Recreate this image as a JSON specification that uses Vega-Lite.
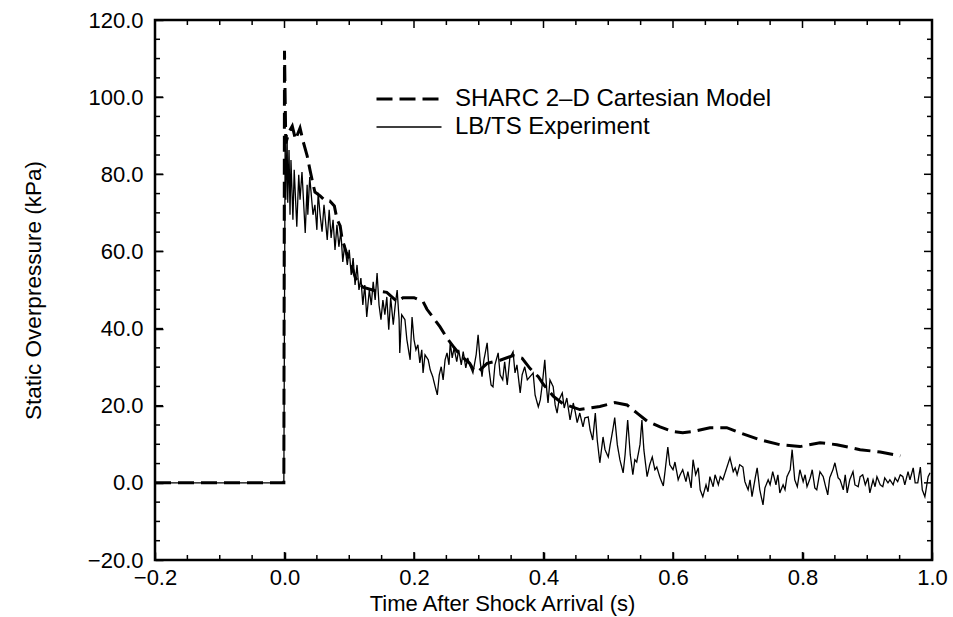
{
  "$schema": "https://vega.github.io/schema/vega-lite/v6.json",
  "width": 777,
  "height": 540,
  "autosize": {"type": "none"},
  "padding": {"left": 155, "top": 20, "right": 21, "bottom": 57},
  "background": "white",
  "config": {
    "view": {"stroke": "black", "strokeWidth": 2.5},
    "axis": {"grid": false, "domain": false, "ticks": true, "tickOpacity": 1, "zindex": 1, "tickColor": "black", "tickWidth": 1.5, "labelColor": "black", "titleColor": "black", "labelFont": "Liberation Sans", "labelFontSize": 22, "titleFont": "Liberation Sans", "titleFontSize": 22, "titleFontWeight": "normal", "labelFlush": false, "labelOverlap": false}
  },
  "datasets": {
    "xt": [
      {"v": -0.2, "k": "major"}, {"v": 0, "k": "major"}, {"v": 0.2, "k": "major"}, {"v": 0.4, "k": "major"}, {"v": 0.6, "k": "major"}, {"v": 0.8, "k": "major"}, {"v": 1.0, "k": "major"},
      {"v": -0.15, "k": "minor"}, {"v": -0.1, "k": "minor"}, {"v": -0.05, "k": "minor"}, {"v": 0.05, "k": "minor"}, {"v": 0.1, "k": "minor"}, {"v": 0.15, "k": "minor"}, {"v": 0.25, "k": "minor"}, {"v": 0.3, "k": "minor"}, {"v": 0.35, "k": "minor"}, {"v": 0.45, "k": "minor"}, {"v": 0.5, "k": "minor"}, {"v": 0.55, "k": "minor"}, {"v": 0.65, "k": "minor"}, {"v": 0.7, "k": "minor"}, {"v": 0.75, "k": "minor"}, {"v": 0.85, "k": "minor"}, {"v": 0.9, "k": "minor"}, {"v": 0.95, "k": "minor"}
    ],
    "yt": [
      {"v": -20, "k": "major"}, {"v": 0, "k": "major"}, {"v": 20, "k": "major"}, {"v": 40, "k": "major"}, {"v": 60, "k": "major"}, {"v": 80, "k": "major"}, {"v": 100, "k": "major"}, {"v": 120, "k": "major"},
      {"v": -15, "k": "minor"}, {"v": -10, "k": "minor"}, {"v": -5, "k": "minor"}, {"v": 5, "k": "minor"}, {"v": 10, "k": "minor"}, {"v": 15, "k": "minor"}, {"v": 25, "k": "minor"}, {"v": 30, "k": "minor"}, {"v": 35, "k": "minor"}, {"v": 45, "k": "minor"}, {"v": 50, "k": "minor"}, {"v": 55, "k": "minor"}, {"v": 65, "k": "minor"}, {"v": 70, "k": "minor"}, {"v": 75, "k": "minor"}, {"v": 85, "k": "minor"}, {"v": 90, "k": "minor"}, {"v": 95, "k": "minor"}, {"v": 105, "k": "minor"}, {"v": 110, "k": "minor"}, {"v": 115, "k": "minor"}
    ],
    "model": [
      {"t": -0.2, "p": 0}, {"t": -0.001, "p": 0}, {"t": 0, "p": 112}, {"t": 0.002, "p": 88}, {"t": 0.007, "p": 91}, {"t": 0.012, "p": 92.5}, {"t": 0.017, "p": 89}, {"t": 0.024, "p": 92}, {"t": 0.029, "p": 88.4}, {"t": 0.035, "p": 84.8}, {"t": 0.039, "p": 81.4}, {"t": 0.044, "p": 77.5}, {"t": 0.047, "p": 75.4}, {"t": 0.055, "p": 74.4}, {"t": 0.063, "p": 73.1}, {"t": 0.07, "p": 73.1}, {"t": 0.077, "p": 71.8}, {"t": 0.081, "p": 68.4}, {"t": 0.086, "p": 66.6}, {"t": 0.089, "p": 63.2}, {"t": 0.095, "p": 60}, {"t": 0.103, "p": 56.5}, {"t": 0.11, "p": 53}, {"t": 0.121, "p": 50.7}, {"t": 0.14, "p": 49.8}, {"t": 0.158, "p": 49.4}, {"t": 0.174, "p": 47}, {"t": 0.183, "p": 48}, {"t": 0.2, "p": 48}, {"t": 0.214, "p": 47}, {"t": 0.22, "p": 45}, {"t": 0.229, "p": 43}, {"t": 0.24, "p": 40.5}, {"t": 0.251, "p": 37.5}, {"t": 0.26, "p": 35.5}, {"t": 0.272, "p": 33}, {"t": 0.286, "p": 31}, {"t": 0.293, "p": 29}, {"t": 0.3, "p": 29}, {"t": 0.313, "p": 31}, {"t": 0.333, "p": 31.8}, {"t": 0.353, "p": 33}, {"t": 0.367, "p": 32.3}, {"t": 0.379, "p": 29.7}, {"t": 0.392, "p": 27.5}, {"t": 0.4, "p": 25.5}, {"t": 0.415, "p": 22.5}, {"t": 0.43, "p": 20.5}, {"t": 0.456, "p": 19}, {"t": 0.487, "p": 19.8}, {"t": 0.51, "p": 20.8}, {"t": 0.529, "p": 20.2}, {"t": 0.545, "p": 18}, {"t": 0.56, "p": 16}, {"t": 0.58, "p": 14.5}, {"t": 0.6, "p": 13.3}, {"t": 0.615, "p": 13}, {"t": 0.631, "p": 13.3}, {"t": 0.657, "p": 14.3}, {"t": 0.683, "p": 14.3}, {"t": 0.703, "p": 13}, {"t": 0.734, "p": 11.2}, {"t": 0.765, "p": 9.9}, {"t": 0.796, "p": 9.4}, {"t": 0.827, "p": 10.4}, {"t": 0.853, "p": 9.9}, {"t": 0.889, "p": 8.6}, {"t": 0.92, "p": 8}, {"t": 0.951, "p": 7}
    ],
    "exp": [
      {"t": -0.2, "p": 0}, {"t": -0.001, "p": 0}, {"t": 0.001, "p": 88.9}, {"t": 0.002, "p": 73.4}, {"t": 0.004, "p": 90.2}, {"t": 0.005, "p": 72.6}, {"t": 0.007, "p": 86.3}, {"t": 0.0085, "p": 69.5}, {"t": 0.01, "p": 83.7}, {"t": 0.013, "p": 68.2}, {"t": 0.015, "p": 81.2}, {"t": 0.019, "p": 66.4}, {"t": 0.022, "p": 79.9}, {"t": 0.024, "p": 73.4}, {"t": 0.027, "p": 80.6}, {"t": 0.032, "p": 64.8}, {"t": 0.035, "p": 77.3}, {"t": 0.036, "p": 69.5}, {"t": 0.039, "p": 79.3}, {"t": 0.044, "p": 69.5}, {"t": 0.047, "p": 72.1}, {"t": 0.05, "p": 65.6}, {"t": 0.052, "p": 75.2}, {"t": 0.055, "p": 69.5}, {"t": 0.058, "p": 65.1}, {"t": 0.061, "p": 72.1}, {"t": 0.066, "p": 63}, {"t": 0.069, "p": 70.8}, {"t": 0.072, "p": 63.5}, {"t": 0.075, "p": 68.2}, {"t": 0.078, "p": 60.4}, {"t": 0.081, "p": 66.9}, {"t": 0.084, "p": 61.2}, {"t": 0.087, "p": 65.1}, {"t": 0.09, "p": 57.3}, {"t": 0.093, "p": 61.7}, {"t": 0.097, "p": 56.5}, {"t": 0.1, "p": 60.4}, {"t": 0.103, "p": 53.9}, {"t": 0.106, "p": 58.3}, {"t": 0.109, "p": 51.3}, {"t": 0.112, "p": 56.5}, {"t": 0.115, "p": 50}, {"t": 0.118, "p": 53.1}, {"t": 0.121, "p": 46.1}, {"t": 0.124, "p": 51.3}, {"t": 0.127, "p": 43}, {"t": 0.131, "p": 50}, {"t": 0.134, "p": 46.1}, {"t": 0.137, "p": 52.1}, {"t": 0.14, "p": 47.4}, {"t": 0.143, "p": 54.4}, {"t": 0.146, "p": 46.1}, {"t": 0.149, "p": 42.3}, {"t": 0.152, "p": 47.4}, {"t": 0.155, "p": 43.6}, {"t": 0.158, "p": 48.2}, {"t": 0.161, "p": 39.7}, {"t": 0.164, "p": 48}, {"t": 0.168, "p": 41}, {"t": 0.171, "p": 46.1}, {"t": 0.174, "p": 50}, {"t": 0.177, "p": 42.3}, {"t": 0.178, "p": 33.7}, {"t": 0.181, "p": 43.6}, {"t": 0.186, "p": 42.3}, {"t": 0.189, "p": 37.1}, {"t": 0.194, "p": 31.9}, {"t": 0.197, "p": 43}, {"t": 0.2, "p": 37.1}, {"t": 0.203, "p": 34.5}, {"t": 0.206, "p": 35.8}, {"t": 0.209, "p": 31.1}, {"t": 0.212, "p": 34.5}, {"t": 0.214, "p": 28.5}, {"t": 0.217, "p": 33.2}, {"t": 0.222, "p": 31.9}, {"t": 0.225, "p": 29.3}, {"t": 0.229, "p": 27.5}, {"t": 0.232, "p": 25.4}, {"t": 0.236, "p": 22.8}, {"t": 0.239, "p": 28}, {"t": 0.242, "p": 30.1}, {"t": 0.245, "p": 26.7}, {"t": 0.248, "p": 31.9}, {"t": 0.251, "p": 33.7}, {"t": 0.254, "p": 30.6}, {"t": 0.256, "p": 36.3}, {"t": 0.259, "p": 32.4}, {"t": 0.262, "p": 35}, {"t": 0.266, "p": 31.4}, {"t": 0.269, "p": 34.5}, {"t": 0.273, "p": 30.6}, {"t": 0.276, "p": 34}, {"t": 0.28, "p": 29.8}, {"t": 0.283, "p": 32.4}, {"t": 0.286, "p": 30.6}, {"t": 0.291, "p": 28.5}, {"t": 0.296, "p": 33.2}, {"t": 0.299, "p": 38.4}, {"t": 0.302, "p": 31.9}, {"t": 0.305, "p": 27.5}, {"t": 0.308, "p": 31.9}, {"t": 0.313, "p": 36.3}, {"t": 0.316, "p": 29.3}, {"t": 0.319, "p": 25.4}, {"t": 0.322, "p": 24.9}, {"t": 0.325, "p": 30.6}, {"t": 0.33, "p": 33.7}, {"t": 0.333, "p": 28}, {"t": 0.337, "p": 26.7}, {"t": 0.34, "p": 31.4}, {"t": 0.344, "p": 25.4}, {"t": 0.348, "p": 32.4}, {"t": 0.353, "p": 34}, {"t": 0.356, "p": 28.5}, {"t": 0.359, "p": 30.6}, {"t": 0.364, "p": 23.3}, {"t": 0.367, "p": 28}, {"t": 0.371, "p": 30.1}, {"t": 0.375, "p": 26.7}, {"t": 0.379, "p": 27.5}, {"t": 0.384, "p": 28.5}, {"t": 0.387, "p": 22.8}, {"t": 0.392, "p": 19.7}, {"t": 0.395, "p": 21.5}, {"t": 0.398, "p": 25.4}, {"t": 0.402, "p": 31.9}, {"t": 0.405, "p": 24.1}, {"t": 0.407, "p": 20.7}, {"t": 0.41, "p": 26.7}, {"t": 0.415, "p": 24.9}, {"t": 0.418, "p": 20.2}, {"t": 0.421, "p": 18.1}, {"t": 0.424, "p": 21.5}, {"t": 0.429, "p": 23.3}, {"t": 0.432, "p": 19.4}, {"t": 0.436, "p": 22}, {"t": 0.441, "p": 16.3}, {"t": 0.446, "p": 20.7}, {"t": 0.449, "p": 18.4}, {"t": 0.452, "p": 15.6}, {"t": 0.456, "p": 18.1}, {"t": 0.461, "p": 14.5}, {"t": 0.464, "p": 16.9}, {"t": 0.469, "p": 17.1}, {"t": 0.472, "p": 13.7}, {"t": 0.476, "p": 11.1}, {"t": 0.48, "p": 18.1}, {"t": 0.483, "p": 11.1}, {"t": 0.487, "p": 5.2}, {"t": 0.492, "p": 11.9}, {"t": 0.495, "p": 8.6}, {"t": 0.5, "p": 6.7}, {"t": 0.503, "p": 9.9}, {"t": 0.507, "p": 13.7}, {"t": 0.51, "p": 16.9}, {"t": 0.514, "p": 9.9}, {"t": 0.518, "p": 6}, {"t": 0.523, "p": 2.6}, {"t": 0.526, "p": 7.3}, {"t": 0.53, "p": 16.3}, {"t": 0.534, "p": 7.3}, {"t": 0.538, "p": 2.1}, {"t": 0.541, "p": 6}, {"t": 0.544, "p": 5.4}, {"t": 0.549, "p": 9.9}, {"t": 0.552, "p": 16.3}, {"t": 0.555, "p": 8.6}, {"t": 0.56, "p": 1.6}, {"t": 0.564, "p": 4.7}, {"t": 0.568, "p": 6.7}, {"t": 0.572, "p": 3.4}, {"t": 0.575, "p": 4.1}, {"t": 0.58, "p": 1.3}, {"t": 0.585, "p": -0.8}, {"t": 0.588, "p": 3.4}, {"t": 0.592, "p": 9.3}, {"t": 0.595, "p": 4.7}, {"t": 0.6, "p": 3.4}, {"t": 0.603, "p": 5.4}, {"t": 0.608, "p": 0.8}, {"t": 0.611, "p": 2.1}, {"t": 0.615, "p": 3.4}, {"t": 0.62, "p": 0.3}, {"t": 0.623, "p": 2.9}, {"t": 0.628, "p": -1.3}, {"t": 0.631, "p": 6}, {"t": 0.635, "p": 2.1}, {"t": 0.639, "p": 3.9}, {"t": 0.642, "p": -1.8}, {"t": 0.646, "p": -3.6}, {"t": 0.651, "p": -0.5}, {"t": 0.654, "p": -2.3}, {"t": 0.657, "p": 1.6}, {"t": 0.662, "p": -1}, {"t": 0.665, "p": 2.1}, {"t": 0.67, "p": -0.5}, {"t": 0.673, "p": 1.6}, {"t": 0.677, "p": 0.8}, {"t": 0.682, "p": 3.4}, {"t": 0.688, "p": 6.5}, {"t": 0.693, "p": 2.9}, {"t": 0.696, "p": 3.9}, {"t": 0.699, "p": 2.1}, {"t": 0.703, "p": 4.7}, {"t": 0.708, "p": 4.1}, {"t": 0.711, "p": 0.3}, {"t": 0.716, "p": -1.8}, {"t": 0.719, "p": 0.8}, {"t": 0.722, "p": -3.6}, {"t": 0.727, "p": 1.3}, {"t": 0.73, "p": 3.9}, {"t": 0.734, "p": -1.8}, {"t": 0.739, "p": -5.7}, {"t": 0.742, "p": -1.3}, {"t": 0.747, "p": 0.8}, {"t": 0.75, "p": -0.5}, {"t": 0.754, "p": 2.9}, {"t": 0.759, "p": -0.5}, {"t": 0.762, "p": 2.1}, {"t": 0.765, "p": -2.6}, {"t": 0.77, "p": -0.5}, {"t": 0.773, "p": -1.8}, {"t": 0.776, "p": 1.6}, {"t": 0.781, "p": 3.4}, {"t": 0.784, "p": 8.6}, {"t": 0.788, "p": 0.8}, {"t": 0.792, "p": -1}, {"t": 0.796, "p": 3.4}, {"t": 0.801, "p": 0.3}, {"t": 0.804, "p": 2.1}, {"t": 0.807, "p": -1}, {"t": 0.812, "p": 1.3}, {"t": 0.815, "p": 3.4}, {"t": 0.819, "p": -1.3}, {"t": 0.822, "p": -1.8}, {"t": 0.827, "p": 2.9}, {"t": 0.832, "p": 1.6}, {"t": 0.835, "p": -0.5}, {"t": 0.839, "p": -3.1}, {"t": 0.842, "p": 1.3}, {"t": 0.847, "p": 3.4}, {"t": 0.85, "p": 5.2}, {"t": 0.855, "p": 1.3}, {"t": 0.858, "p": 0.8}, {"t": 0.863, "p": -1.8}, {"t": 0.866, "p": 2.1}, {"t": 0.869, "p": -2.6}, {"t": 0.873, "p": 0.8}, {"t": 0.878, "p": 2.9}, {"t": 0.881, "p": -0.5}, {"t": 0.886, "p": -1}, {"t": 0.889, "p": 1.6}, {"t": 0.893, "p": 2.1}, {"t": 0.897, "p": -0.5}, {"t": 0.901, "p": 1.3}, {"t": 0.904, "p": -2.6}, {"t": 0.909, "p": 0.8}, {"t": 0.912, "p": -1}, {"t": 0.915, "p": 1.6}, {"t": 0.92, "p": -0.5}, {"t": 0.924, "p": -1}, {"t": 0.927, "p": 1.3}, {"t": 0.932, "p": 0}, {"t": 0.935, "p": 0.8}, {"t": 0.94, "p": -0.5}, {"t": 0.943, "p": 1.3}, {"t": 0.947, "p": 0.3}, {"t": 0.951, "p": 2.1}, {"t": 0.955, "p": 1.6}, {"t": 0.958, "p": -0.5}, {"t": 0.963, "p": 2.9}, {"t": 0.966, "p": 0.8}, {"t": 0.971, "p": 3.9}, {"t": 0.974, "p": 0}, {"t": 0.978, "p": 0}, {"t": 0.982, "p": 4.1}, {"t": 0.985, "p": -1.8}, {"t": 0.989, "p": -3.6}, {"t": 0.992, "p": -0.5}, {"t": 0.994, "p": 1.6}, {"t": 0.997, "p": 2.6}
    ]
  },
  "layer": [
    {
      "data": {"name": "exp"},
      "transform": [{"calculate": "'LB/TS Experiment'", "as": "series"}],
      "mark": {"type": "line", "color": "black", "strokeCap": "butt"},
      "encoding": {
        "x": {"field": "t", "type": "quantitative", "scale": {"domain": [-0.2, 1.0], "nice": false, "zero": false},
              "axis": {"orient": "bottom", "values": [-0.2, 0, 0.2, 0.4, 0.6, 0.8, 1.0], "format": ".1f", "ticks": true, "tickColor": "black", "tickWidth": 1.5, "tickOpacity": 1, "offset": -8, "tickSize": 8, "labelPadding": 7, "title": "Time After Shock Arrival (s)", "titlePadding": 5, "titleX": 347}},
        "y": {"field": "p", "type": "quantitative", "scale": {"domain": [-20, 120], "nice": false, "zero": false},
              "axis": {"orient": "left", "values": [-20, 0, 20, 40, 60, 80, 100, 120], "format": ".1f", "ticks": true, "tickColor": "black", "tickWidth": 1.5, "tickOpacity": 1, "offset": -8, "tickSize": 8, "labelPadding": 12, "title": "Static Overpressure (kPa)", "titleFontSize": 22.5, "titlePadding": 42}},
        "strokeDash": {"field": "series", "type": "nominal", "scale": {"domain": ["SHARC 2–D Cartesian Model", "LB/TS Experiment"], "range": [[16, 7], [1, 0]]},
                       "legend": {"title": null, "orient": "none", "legendX": 242, "legendY": 67, "symbolType": "M-6.5,0H6.5", "symbolSize": 100, "symbolStrokeColor": "black", "labelFont": "Liberation Sans", "labelFontSize": 24, "labelColor": "black", "labelOffset": 34, "labelLimit": 600, "rowPadding": 4, "padding": 0}},
        "strokeWidth": {"field": "series", "type": "nominal", "scale": {"domain": ["SHARC 2–D Cartesian Model", "LB/TS Experiment"], "range": [3, 1.3]},
                       "legend": {"title": null, "orient": "none", "legendX": 242, "legendY": 67, "symbolType": "M-6.5,0H6.5", "symbolSize": 100, "symbolStrokeColor": "black", "labelFont": "Liberation Sans", "labelFontSize": 24, "labelColor": "black", "labelOffset": 34, "labelLimit": 600, "rowPadding": 4, "padding": 0}}
      }
    },
    {
      "data": {"name": "model"},
      "transform": [{"calculate": "'SHARC 2–D Cartesian Model'", "as": "series"}],
      "mark": {"type": "line", "color": "black", "strokeCap": "butt"},
      "encoding": {
        "x": {"field": "t", "type": "quantitative", "axis": null},
        "y": {"field": "p", "type": "quantitative", "axis": null},
        "strokeDash": {"field": "series", "type": "nominal"},
        "strokeWidth": {"field": "series", "type": "nominal"}
      }
    },
    {
      "data": {"name": "xt"},
      "mark": {"type": "tick", "orient": "vertical", "clip": true, "color": "black", "opacity": 1, "thickness": 1.5},
      "encoding": {
        "x": {"field": "v", "type": "quantitative", "axis": null},
        "y": {"datum": -20, "type": "quantitative", "axis": null},
        "size": {"field": "k", "type": "nominal", "scale": {"domain": ["major", "minor"], "range": [16, 10]}, "legend": null}
      }
    },
    {
      "data": {"name": "xt"},
      "mark": {"type": "tick", "orient": "vertical", "clip": true, "color": "black", "opacity": 1, "thickness": 1.5},
      "encoding": {
        "x": {"field": "v", "type": "quantitative", "axis": null},
        "y": {"datum": 120, "type": "quantitative", "axis": null},
        "size": {"field": "k", "type": "nominal", "scale": {"domain": ["major", "minor"], "range": [16, 10]}, "legend": null}
      }
    },
    {
      "data": {"name": "yt"},
      "mark": {"type": "tick", "orient": "horizontal", "clip": true, "color": "black", "opacity": 1, "thickness": 1.5},
      "encoding": {
        "y": {"field": "v", "type": "quantitative", "axis": null},
        "x": {"datum": -0.2, "type": "quantitative", "axis": null},
        "size": {"field": "k", "type": "nominal", "scale": {"domain": ["major", "minor"], "range": [16, 10]}, "legend": null}
      }
    },
    {
      "data": {"name": "yt"},
      "mark": {"type": "tick", "orient": "horizontal", "clip": true, "color": "black", "opacity": 1, "thickness": 1.5},
      "encoding": {
        "y": {"field": "v", "type": "quantitative", "axis": null},
        "x": {"datum": 1.0, "type": "quantitative", "axis": null},
        "size": {"field": "k", "type": "nominal", "scale": {"domain": ["major", "minor"], "range": [16, 10]}, "legend": null}
      }
    }
  ],
  "resolve": {"axis": {"x": "independent", "y": "independent"}}
}
